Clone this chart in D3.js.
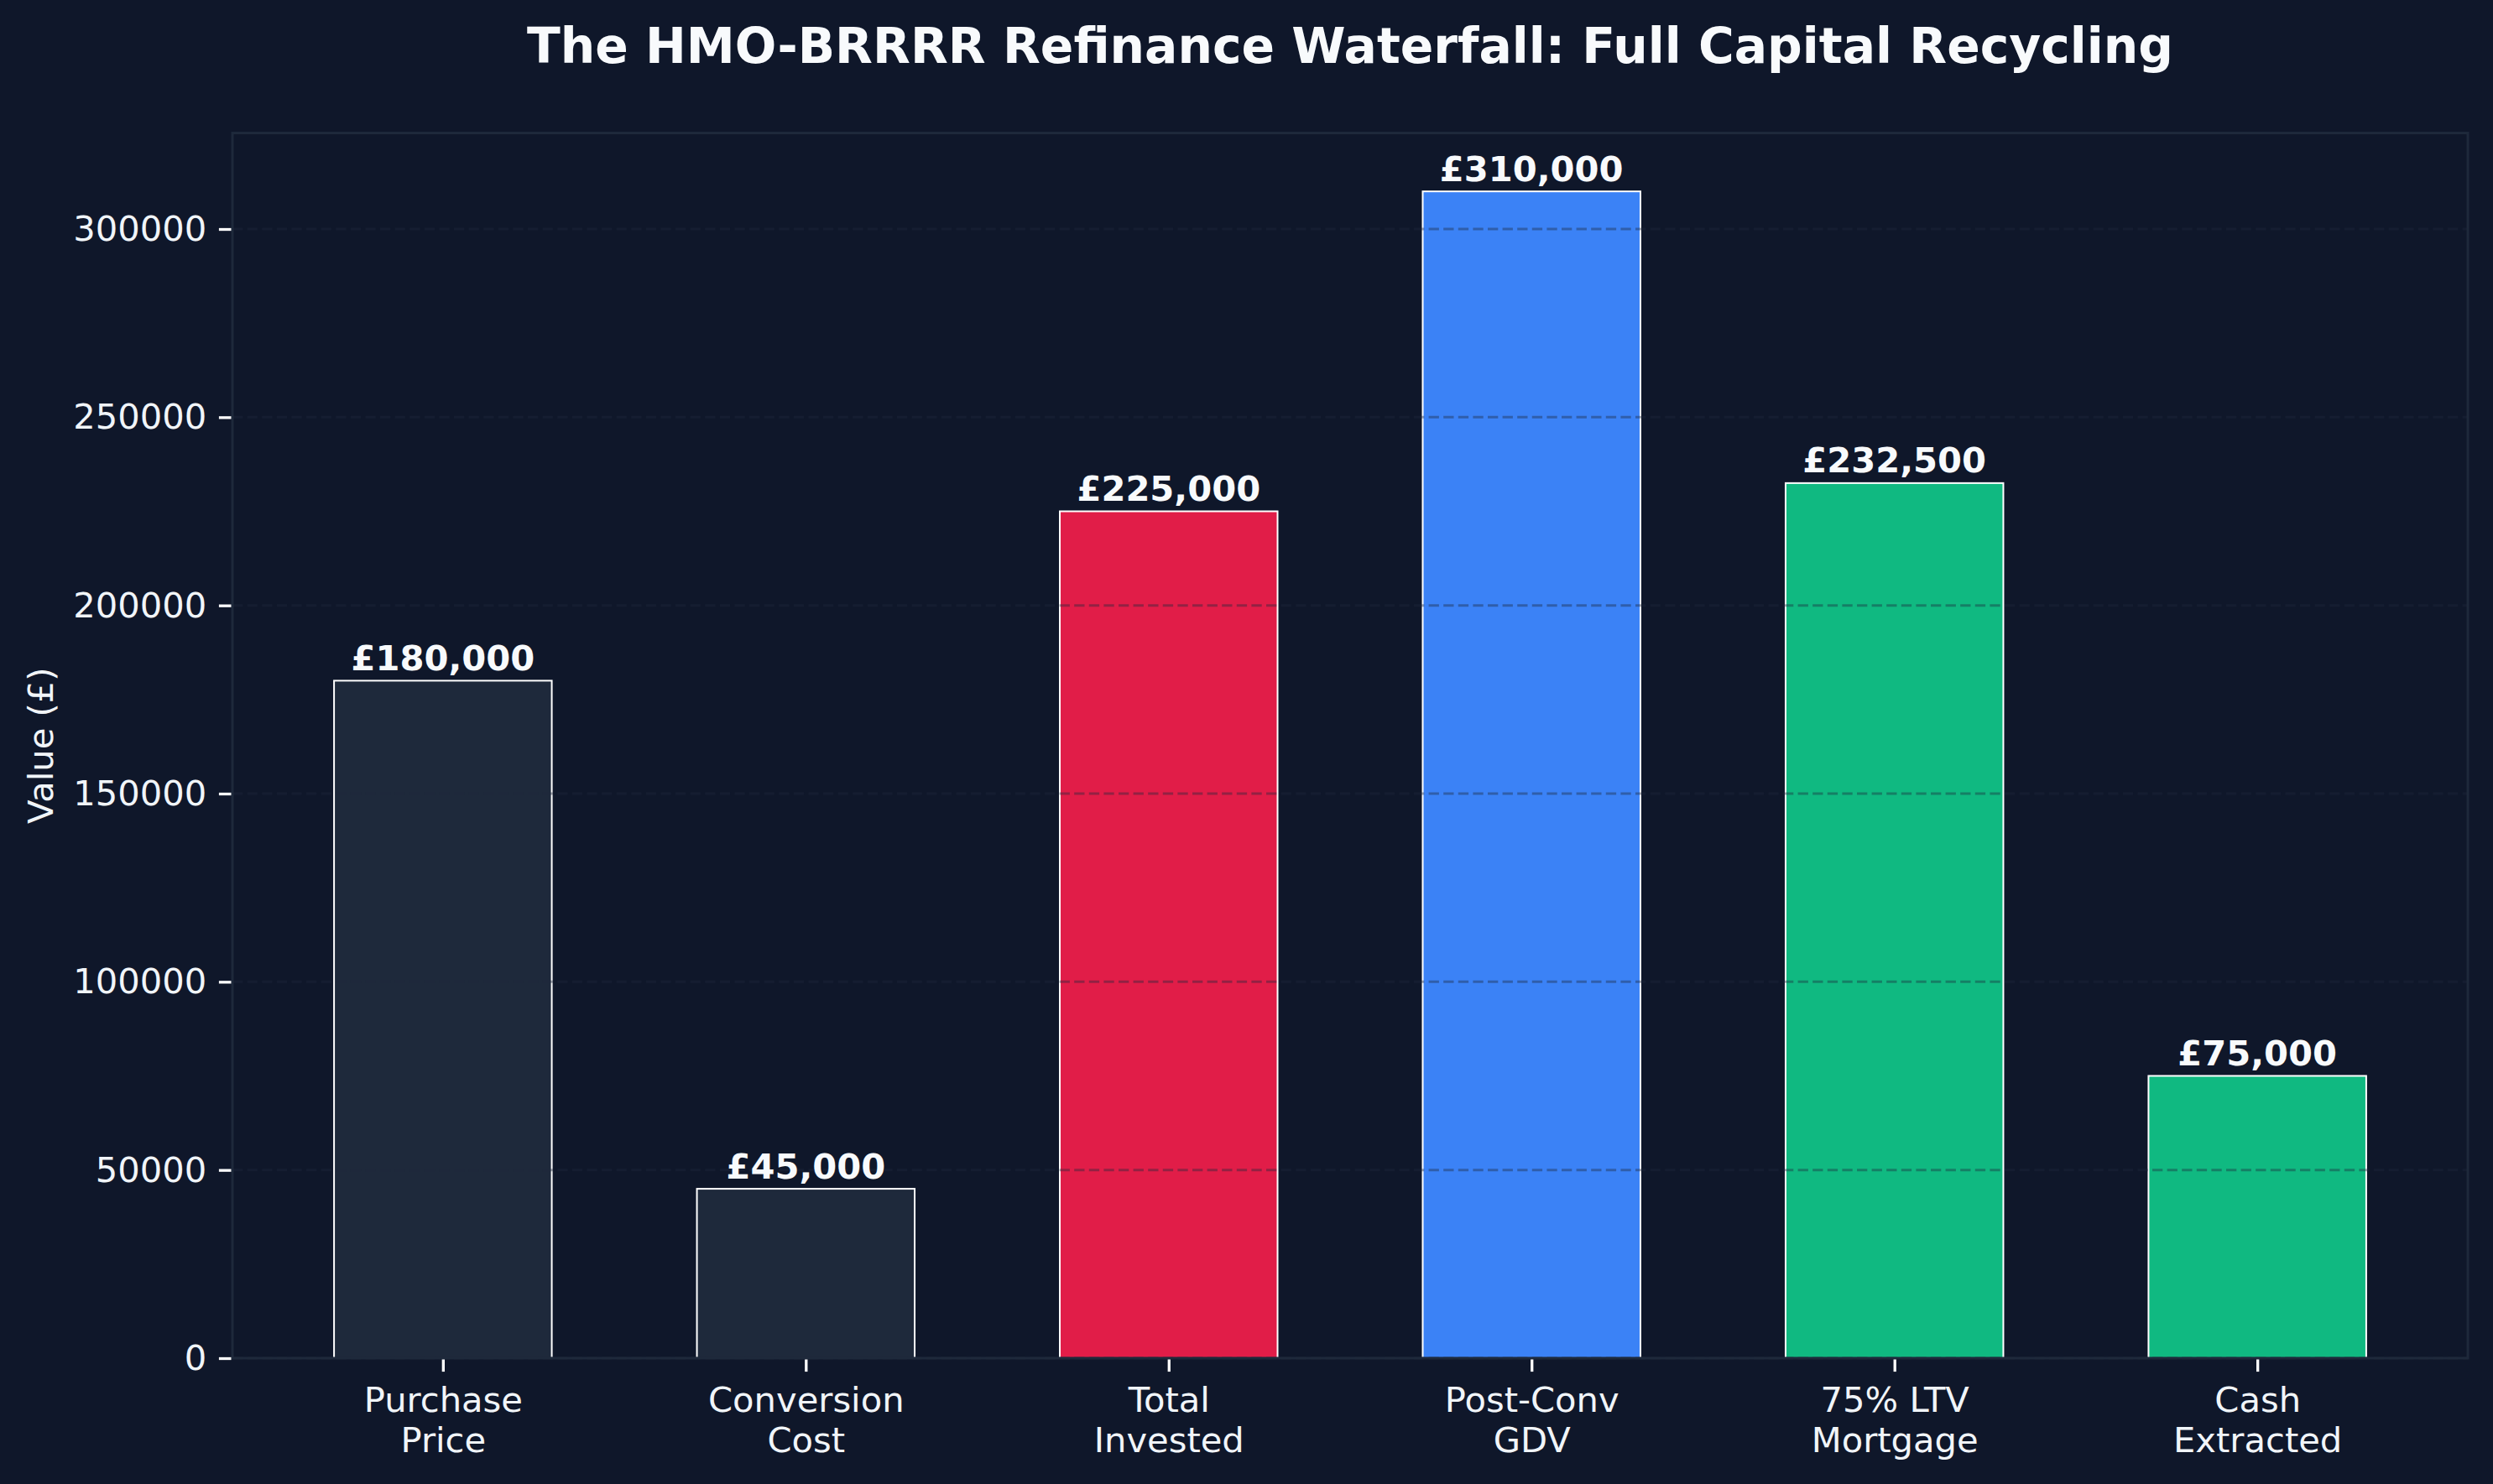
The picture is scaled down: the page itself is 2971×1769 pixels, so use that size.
<!DOCTYPE html>
<html>
<head>
<meta charset="utf-8">
<script src="https://cdn.jsdelivr.net/npm/d3@7"></script>
<style>
  html, body { margin: 0; padding: 0; background: #0f172a; }
  svg { display: block; font-family: "DejaVu Sans", sans-serif; }
</style>
</head>
<body>
<svg id="chart"></svg>
<script>
const WIDTH = 2971;
const HEIGHT = 1769;

const categories = [
  ['Purchase', 'Price'],
  ['Conversion', 'Cost'],
  ['Total', 'Invested'],
  ['Post-Conv', 'GDV'],
  ['75% LTV', 'Mortgage'],
  ['Cash', 'Extracted'],
];
const values = [180000, 45000, 225000, 310000, 232500, 75000];
const barColors = ['#1e293b', '#1e293b', '#e11d48', '#3b82f6', '#10b981', '#10b981'];
const yTicks = [0, 50000, 100000, 150000, 200000, 250000, 300000];

const PLOT = { left: 277, right: 2941, top: 158.6, bottom: 1619 };
const BAR_WIDTH = 0.6;
const FONT = 41.67;

const svg = d3.select('#chart')
  .attr('width', WIDTH)
  .attr('height', HEIGHT);

svg.append('rect')
  .attr('width', WIDTH)
  .attr('height', HEIGHT)
  .attr('fill', '#0f172a');

// matplotlib style limits: 5% margin on x, 5% headroom on y
const xPad = (categories.length - 1 + BAR_WIDTH) * 0.05;
const x = d3.scaleLinear()
  .domain([-BAR_WIDTH / 2 - xPad, categories.length - 1 + BAR_WIDTH / 2 + xPad])
  .range([PLOT.left, PLOT.right]);
const y = d3.scaleLinear()
  .domain([0, d3.max(values) * 1.05])
  .range([PLOT.bottom, PLOT.top]);

const bars = svg.append('g').attr('id', 'bars');
bars.selectAll('rect')
  .data(values)
  .enter()
    .append('rect')
    .attr('x', (d, i) => x(i - BAR_WIDTH / 2))
    .attr('y', (d) => y(d))
    .attr('width', (d, i) => x(i + BAR_WIDTH / 2) - x(i - BAR_WIDTH / 2))
    .attr('height', (d) => y(0) - y(d))
    .attr('fill', (d, i) => barColors[i])
    .attr('stroke', '#ffffff')
    .attr('stroke-width', 2);

// grid sits above the bars, darker than the bars so it shows on them
svg.append('g')
  .attr('id', 'grid')
  .selectAll('line')
  .data(yTicks)
  .enter()
    .append('line')
    .attr('x1', PLOT.left)
    .attr('x2', PLOT.right)
    .attr('y1', (d) => y(d))
    .attr('y2', (d) => y(d))
    .attr('stroke', '#1e293b')
    .attr('stroke-opacity', 0.4)
    .attr('stroke-width', 3)
    .attr('stroke-dasharray', '12.3 5.3');

// frame
svg.append('rect')
  .attr('x', PLOT.left)
  .attr('y', PLOT.top)
  .attr('width', PLOT.right - PLOT.left)
  .attr('height', PLOT.bottom - PLOT.top)
  .attr('fill', 'none')
  .attr('stroke', '#1e293b')
  .attr('stroke-width', 3);

// y axis
const yAxis = svg.append('g')
  .attr('transform', `translate(${PLOT.left - 1.5},0)`)
  .call(d3.axisLeft(y)
    .tickValues(yTicks)
    .tickFormat(d3.format('d'))
    .tickSize(14.6)
    .tickPadding(14.6));
yAxis.select('.domain').remove();
yAxis.selectAll('.tick line').attr('stroke', '#ffffff').attr('stroke-width', 3.3);
yAxis.selectAll('.tick text')
  .attr('fill', '#f1f5f9')
  .attr('font-size', FONT)
  .attr('font-family', '"DejaVu Sans", sans-serif');

// x axis
const xAxis = svg.append('g')
  .attr('transform', `translate(0,${PLOT.bottom + 1.5})`)
  .call(d3.axisBottom(x)
    .tickValues(d3.range(categories.length))
    .tickFormat('')
    .tickSize(14.6));
xAxis.select('.domain').remove();
xAxis.selectAll('.tick line').attr('stroke', '#ffffff').attr('stroke-width', 3.3);
xAxis.selectAll('.tick')
  .append('text')
  .attr('fill', '#f1f5f9')
  .attr('font-size', FONT)
  .attr('font-family', '"DejaVu Sans", sans-serif')
  .attr('text-anchor', 'middle')
  .selectAll('tspan')
  .data((d) => categories[d])
  .enter()
    .append('tspan')
    .attr('x', 0)
    .attr('y', (d, i) => 62 + i * 48.5)
    .text((d) => d);

// value labels
svg.append('g')
  .attr('id', 'labels')
  .selectAll('text')
  .data(values)
  .enter()
    .append('text')
    .attr('x', (d, i) => x(i))
    .attr('y', (d) => y(d) - 12.5)
    .attr('text-anchor', 'middle')
    .attr('font-size', FONT)
    .attr('font-weight', 'bold')
    .attr('fill', '#f8fafc')
    .text((d) => '£' + d3.format(',')(d));

// y label
svg.append('text')
  .attr('transform', `translate(63,${(PLOT.top + PLOT.bottom) / 2}) rotate(-90)`)
  .attr('text-anchor', 'middle')
  .attr('font-size', FONT)
  .attr('fill', '#f1f5f9')
  .text('Value (£)');

// title
svg.append('text')
  .attr('x', (PLOT.left + PLOT.right) / 2)
  .attr('y', 75)
  .attr('text-anchor', 'middle')
  .attr('font-size', 58.3)
  .attr('font-weight', 'bold')
  .attr('fill', '#f8fafc')
  .text('The HMO-BRRRR Refinance Waterfall: Full Capital Recycling');
</script>
</body>
</html>
